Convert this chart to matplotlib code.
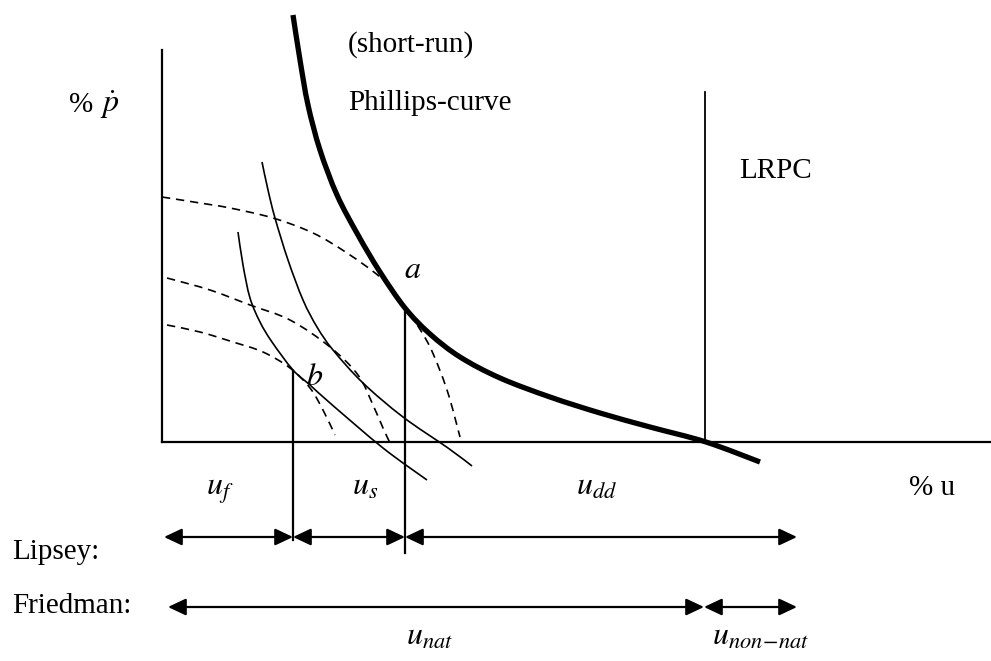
import matplotlib
matplotlib.use("Agg")
import matplotlib.pyplot as plt
from matplotlib.path import Path
from matplotlib.patches import PathPatch

plt.rcParams['mathtext.fontset'] = 'stix'
SERIF = ['Liberation Serif', 'DejaVu Serif']

# Curves (pixel coordinates, y downward)
srpc_x = [293, 300, 308, 320, 337, 358, 380, 405, 430, 460, 500, 550, 600, 650, 706, 760]
srpc_y = [15, 60, 105, 150, 195, 235, 272, 308, 334, 357, 378, 397, 413, 427, 442, 462]

thin1_x = [238, 243, 250, 260, 272, 293, 310, 330, 383, 427]
thin1_y = [232, 265, 298, 322, 342, 370, 385, 403, 448, 480]

thin2_x = [262, 268, 275, 288, 303, 317, 333, 363, 403, 448, 472]
thin2_y = [162, 190, 218, 260, 300, 327, 350, 383, 417, 448, 466]

dash1_x = [162, 200, 230, 273, 313, 347, 380, 398, 412, 430, 447, 460]
dash1_y = [197, 203, 208, 218, 233, 253, 277, 297, 317, 347, 390, 437]

dash2_x = [167, 210, 250, 290, 330, 358, 373, 383, 390]
dash2_y = [278, 290, 305, 320, 347, 375, 405, 428, 443]

dash3_x = [167, 200, 233, 263, 290, 310, 323, 335]
dash3_y = [325, 332, 342, 352, 368, 388, 410, 435]

# Axes of the diagram
origin = (162, 442)
y_axis_top = 50
x_axis_right = 990
lrpc_x, lrpc_top = 705, 92

# Reference lines from points a and b
vline_b = (293, 371, 540)
vline_a = (405, 308, 553)

# Range arrows
lipsey_y = 537
lipsey_bounds = [164, 293, 405, 797]
friedman_y = 607
friedman_bounds = [168, 704, 797]

fig = plt.figure(figsize=(9.91, 6.61), dpi=100)
ax = fig.add_axes([0, 0, 1, 1])
ax.set_xlim(0, 991)
ax.set_ylim(661, 0)
ax.axis('off')


def smooth_path(xs, ys):
    """Catmull-Rom through the read points, drawn as cubic Bezier segments."""
    pts = list(zip(xs, ys))
    n = len(pts)
    verts = [pts[0]]
    codes = [Path.MOVETO]
    for i in range(n - 1):
        p0 = pts[i - 1] if i > 0 else pts[i]
        p1 = pts[i]
        p2 = pts[i + 1]
        p3 = pts[i + 2] if i + 2 < n else pts[i + 1]
        c1 = (p1[0] + (p2[0] - p0[0]) / 6.0, p1[1] + (p2[1] - p0[1]) / 6.0)
        c2 = (p2[0] - (p3[0] - p1[0]) / 6.0, p2[1] - (p3[1] - p1[1]) / 6.0)
        verts += [c1, c2, p2]
        codes += [Path.CURVE4] * 3
    return Path(verts, codes)


def draw_curve(xs, ys, lw, ls='-'):
    patch = PathPatch(smooth_path(xs, ys), fill=False, edgecolor='black',
                      lw=lw, linestyle=ls, capstyle='butt', joinstyle='round')
    ax.add_patch(patch)


# axes
ax.plot([origin[0], origin[0]], [y_axis_top, origin[1]], color='black', lw=1.6)
ax.plot([origin[0], x_axis_right], [origin[1], origin[1]], color='black', lw=1.6)
ax.plot([lrpc_x, lrpc_x], [lrpc_top, origin[1]], color='black', lw=1.3)

# dashed curves
for xs, ys in [(dash1_x, dash1_y), (dash2_x, dash2_y), (dash3_x, dash3_y)]:
    draw_curve(xs, ys, 1.2, (0, (5, 3.5)))

# thin curves
for xs, ys in [(thin1_x, thin1_y), (thin2_x, thin2_y)]:
    draw_curve(xs, ys, 1.2)

# thick SRPC
draw_curve(srpc_x, srpc_y, 3.8)

# verticals
for vx, y0, y1 in [vline_b, vline_a]:
    ax.plot([vx, vx], [y0, y1], color='black', lw=1.6)


def darrow(x0, x1, y):
    ax.annotate('', xy=(x1, y), xytext=(x0, y),
                arrowprops=dict(arrowstyle='<|-|>,head_length=0.68,head_width=0.32',
                                color='black', lw=1.6, shrinkA=0, shrinkB=0,
                                mutation_scale=16))


for i in range(len(lipsey_bounds) - 1):
    darrow(lipsey_bounds[i], lipsey_bounds[i + 1], lipsey_y)
for i in range(len(friedman_bounds) - 1):
    darrow(friedman_bounds[i], friedman_bounds[i + 1], friedman_y)

# texts
FS = 21
ax.text(348, 52, '(short-run)', family=SERIF, fontsize=FS, va='baseline', ha='left')
ax.text(348, 110, 'Phillips-curve', family=SERIF, fontsize=FS, va='baseline', ha='left')
ax.text(739, 178, 'LRPC', family=SERIF, fontsize=FS, va='baseline', ha='left')
ax.text(69, 112, '%', family=SERIF, fontsize=FS, va='baseline', ha='left')
ax.text(100, 112, r'$\dot{p}$', fontsize=23, va='baseline', ha='left')
ax.text(404, 278, r'$a$', fontsize=23, va='baseline', ha='left')
ax.text(306, 385, r'$b$', fontsize=23, va='baseline', ha='left')
ax.text(206, 495, r'$u_{f}$', fontsize=23, va='baseline', ha='left')
ax.text(352, 495, r'$u_{s}$', fontsize=23, va='baseline', ha='left')
ax.text(576, 495, r'$u_{dd}$', fontsize=23, va='baseline', ha='left')
ax.text(909, 495, '% u', family=SERIF, fontsize=FS, va='baseline', ha='left')
ax.text(12, 559, 'Lipsey:', family=SERIF, fontsize=FS, va='baseline', ha='left')
ax.text(12, 613, 'Friedman:', family=SERIF, fontsize=FS, va='baseline', ha='left')
ax.text(406, 645, r'$u_{nat}$', fontsize=23, va='baseline', ha='left')
ax.text(712, 645, r'$u_{non\!-\!nat}$', fontsize=23, va='baseline', ha='left')

fig.savefig('out.png', dpi=100)
